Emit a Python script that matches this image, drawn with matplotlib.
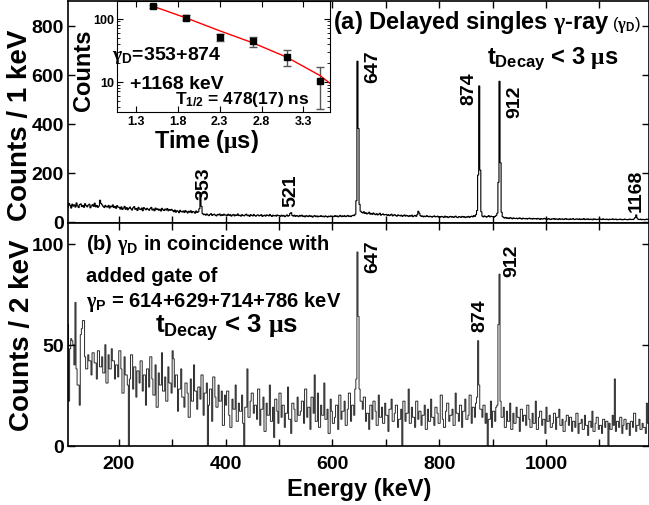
import numpy as np
import matplotlib
matplotlib.use('Agg')
import matplotlib.pyplot as plt
import matplotlib as mpl
from matplotlib.ticker import MultipleLocator, FixedLocator, LogLocator, NullFormatter

mpl.rcParams['font.family'] = ['Liberation Sans', 'DejaVu Sans']
mpl.rcParams['font.weight'] = 'bold'
mpl.rcParams['mathtext.fontset'] = 'custom'
mpl.rcParams['mathtext.rm'] = 'Liberation Sans:bold'
mpl.rcParams['mathtext.it'] = 'Liberation Sans:bold'
mpl.rcParams['mathtext.bf'] = 'Liberation Sans:bold'
mpl.rcParams['mathtext.cal'] = 'Liberation Serif'

# ---- (a) delayed singles, counts per keV, 2 keV steps from 100 keV ----
top_100 = [62, 70, 58, 74, 66, 55, 71, 63, 68, 59, 76, 64, 57, 69, 72, 61, 66, 58, 73, 65,
           60, 67, 71, 56, 64, 69, 62, 75, 60, 66, 58, 63, 87, 74, 68, 62, 57, 66, 61, 59,
           66, 55, 63, 60, 68, 57, 62, 54, 65, 59]
top_200 = [58, 51, 60, 49, 55, 62, 50, 57, 48, 54, 59, 52, 47, 56, 61, 50, 53, 45, 58, 51,
           49, 55, 44, 57, 52, 48, 54, 50, 46, 53, 58, 47, 51, 44, 55, 49, 52, 46, 50, 43,
           54, 48, 45, 51, 47, 53, 44, 49, 46, 50]
top_300 = [45, 40, 47, 38, 44, 42, 36, 46, 41, 39, 43, 37, 45, 40, 35, 42, 38, 44, 36, 41,
           39, 34, 43, 37, 40, 52, 118, 62, 33, 28, 30, 26, 31, 27, 24, 29, 32, 25, 28, 30,
           26, 23, 29, 27, 31, 24, 28, 25, 30, 26]
top_400 = [27, 24, 30, 25, 28, 22, 26, 29, 23, 27, 25, 31, 24, 26, 22, 28, 25, 23, 27, 30,
           24, 26, 21, 28, 25, 23, 29, 24, 22, 26, 27, 23, 25, 28, 21, 24, 26, 22, 27, 25,
           23, 29, 24, 21, 26, 23, 25, 22, 27, 24]
top_500 = [24, 21, 26, 22, 25, 20, 23, 27, 22, 24, 33, 36, 25, 22, 26, 21, 24, 23, 20, 25,
           22, 26, 21, 23, 19, 24, 22, 20, 25, 21, 23, 18, 22, 24, 20, 23, 19, 22, 21, 24,
           20, 22, 19, 23, 21, 18, 22, 20, 23, 21]
top_600 = [22, 20, 24, 21, 23, 19, 22, 25, 20, 23, 21, 24, 20, 22, 25, 21, 23, 20, 24, 26,
           24, 30, 85, 655, 380, 70, 42, 38, 35, 40, 33, 36, 31, 34, 38, 30, 33, 29, 35, 31,
           28, 32, 27, 30, 34, 26, 29, 31, 27, 28]
top_700 = [29, 25, 28, 24, 27, 30, 23, 26, 28, 24, 22, 27, 25, 23, 26, 21, 24, 27, 22, 25,
           23, 21, 24, 22, 26, 20, 23, 25, 21, 28, 42, 34, 24, 21, 23, 19, 22, 20, 24, 21,
           19, 22, 20, 18, 21, 23, 19, 20, 22, 18]
top_800 = [20, 18, 21, 19, 17, 22, 18, 20, 16, 19, 21, 18, 20, 17, 19, 22, 18, 16, 20, 19,
           17, 21, 18, 20, 16, 19, 18, 21, 17, 20, 22, 19, 24, 21, 28, 45, 190, 554, 210, 40,
           22, 19, 23, 20, 18, 21, 24, 19, 22, 20]
top_900 = [20, 18, 21, 25, 34, 160, 573, 240, 38, 20, 16, 14, 17, 13, 15, 12, 16, 14, 11, 15,
           13, 12, 14, 11, 13, 15, 12, 10, 14, 12, 11, 13, 10, 12, 14, 11, 12, 10, 13, 11,
           12, 10, 13, 11, 9, 12, 10, 11, 13, 10]
top_1000 = [11, 9, 12, 10, 8, 11, 10, 12, 9, 11, 10, 8, 12, 9, 10, 11, 8, 10, 12, 9,
            10, 8, 11, 9, 10, 12, 8, 9, 11, 10, 9, 11, 8, 10, 9, 12, 8, 10, 9, 11,
            8, 10, 9, 7, 11, 9, 10, 8, 9, 10]
top_1100 = [9, 10, 8, 11, 9, 8, 10, 9, 7, 10, 8, 9, 11, 8, 9, 10, 7, 9, 8, 10,
            9, 7, 8, 10, 9, 8, 7, 9, 10, 8, 9, 8, 11, 16, 27, 14, 9, 8, 10, 7,
            9, 8, 7, 9, 10, 8, 9, 7, 8, 9]

# ---- (b) gamma_D gated by gamma_P, counts per 2 keV from 100 keV ----
bot_100 = [50, 52, 60, 22, 48, 53, 52, 50, 40, 71, 38, 30, 30, 20, 55, 58, 62, 62, 44, 38,
           38, 45, 42, 42, 35, 46, 46, 41, 41, 33, 47, 47, 39, 39, 44, 36, 36, 50, 31, 31,
           45, 38, 38, 48, 42, 42, 33, 40, 40, 34]
bot_200 = [47, 47, 38, 26, 26, 44, 35, 35, 30, 0, 33, 45, 45, 28, 39, 39, 24, 37, 37, 31,
           42, 42, 27, 35, 35, 20, 38, 38, 29, 44, 44, 33, 25, 25, 40, 19, 19, 36, 30, 30,
           46, 27, 27, 34, 22, 22, 39, 31, 31, 26]
bot_300 = [47, 43, 29, 35, 35, 17, 28, 28, 38, 24, 24, 19, 31, 31, 26, 14, 14, 33, 22, 22,
           40, 27, 27, 18, 29, 29, 23, 35, 35, 15, 26, 26, 31, 0, 20, 28, 28, 12, 34, 34,
           24, 19, 19, 30, 22, 22, 27, 10, 10, 25]
bot_400 = [20, 27, 27, 15, 9, 9, 23, 18, 18, 30, 12, 12, 21, 17, 17, 25, 11, 0, 19, 19,
           38, 14, 14, 22, 26, 26, 16, 20, 20, 13, 28, 28, 10, 18, 18, 24, 7, 7, 21, 15,
           15, 30, 12, 12, 19, 4, 23, 23, 17, 11]
bot_500 = [26, 26, 14, 20, 20, 9, 16, 16, 29, 13, 13, 6, 21, 21, 18, 12, 12, 24, 15, 15,
           17, 22, 22, 11, 28, 28, 14, 19, 19, 8, 24, 24, 16, 35, 12, 12, 26, 9, 9, 20,
           15, 15, 31, 13, 13, 18, 6, 6, 23, 17]
bot_600 = [11, 11, 14, 20, 20, 8, 25, 25, 13, 17, 17, 22, 10, 10, 18, 26, 26, 12, 20, 20,
           15, 28, 33, 96, 64, 28, 22, 22, 18, 24, 24, 12, 16, 16, 8, 20, 20, 13, 22, 22,
           17, 10, 10, 25, 14, 14, 19, 11, 11, 21]
bot_700 = [15, 15, 7, 18, 18, 23, 12, 12, 16, 20, 20, 9, 13, 13, 18, 0, 22, 22, 12, 16,
           16, 28, 11, 11, 19, 14, 14, 9, 22, 22, 13, 17, 17, 10, 15, 15, 20, 8, 8, 18,
           12, 12, 23, 14, 14, 10, 19, 19, 16, 11]
bot_800 = [11, 25, 25, 13, 9, 9, 17, 21, 21, 12, 15, 15, 18, 10, 10, 26, 16, 16, 12, 20,
           20, 9, 17, 17, 23, 13, 13, 15, 25, 25, 11, 19, 19, 14, 21, 24, 52, 30, 18, 18,
           14, 20, 20, 11, 16, 0, 13, 13, 22, 9]
bot_900 = [17, 17, 12, 19, 20, 60, 85, 22, 14, 14, 19, 9, 9, 17, 12, 12, 21, 8, 8, 16,
           11, 11, 19, 14, 14, 7, 18, 18, 12, 15, 15, 10, 20, 20, 13, 9, 9, 16, 11, 11,
           22, 8, 8, 14, 17, 17, 10, 13, 13, 6]
bot_1000 = [19, 12, 12, 15, 9, 9, 11, 16, 16, 8, 14, 14, 18, 10, 10, 13, 7, 7, 12, 15,
            15, 10, 14, 14, 7, 12, 12, 9, 16, 16, 6, 11, 11, 13, 8, 8, 15, 10, 10, 5,
            12, 12, 9, 17, 7, 7, 11, 14, 14, 8]
bot_1100 = [10, 10, 6, 13, 13, 9, 12, 12, 0, 11, 8, 8, 15, 10, 33, 7, 12, 12, 9, 14,
            14, 6, 10, 13, 13, 8, 11, 11, 5, 12, 12, 9, 16, 16, 7, 10, 10, 13, 8, 8,
            11, 9, 9, 6, 21, 11, 11, 7, 13, 13]

# ---- inset: decay curve ----
t_us = [1.5, 1.9, 2.3, 2.7, 3.1, 3.5]
t_counts = [157, 104, 51, 43.5, 24.5, 10.4]
t_err = [10, 8, 6.5, 7.5, 7.0, 6.7]
fit_t = [1.5, 1.9, 2.3, 2.7, 3.1, 3.5, 3.62]
fit_counts = [157, 102, 64, 41, 24.5, 12.5, 9.4]

top_peaks = [('353', 359, 92), ('521', 523, 65), ('647', 676, 571),
             ('874', 855, 481), ('912', 941, 427), ('1168', 1169, 43)]
bot_peaks = [('647', 676, 86), ('874', 877, 57), ('912', 937, 84)]

top_counts = np.array(top_100 + top_200 + top_300 + top_400 + top_500 + top_600 +
                      top_700 + top_800 + top_900 + top_1000 + top_1100)
bot_counts = np.array(bot_100 + bot_200 + bot_300 + bot_400 + bot_500 + bot_600 +
                      bot_700 + bot_800 + bot_900 + bot_1000 + bot_1100)
top_edges = 100 + 2 * np.arange(len(top_counts) + 1)
bot_edges = 100 + 2 * np.arange(len(bot_counts) + 1)

W, H = 649, 506
fig = plt.figure(figsize=(W / 100, H / 100), dpi=100)

ax1 = fig.add_axes([68 / W, 1 - 224 / H, 580.5 / W, 222 / H])
ax2 = fig.add_axes([68 / W, 1 - 446.5 / H, 580.5 / W, 222.5 / H])
axin = fig.add_axes([117 / W, 1 - 113 / H, 213 / W, 111 / H])

ax1.stairs(top_counts, top_edges, baseline=None, color='black', lw=0.8)
ax2.stairs(bot_counts, bot_edges, baseline=None, color='#2a2a2a', lw=0.7)

for ax in (ax1, ax2):
    ax.set_xlim(105, 1192)
    ax.xaxis.set_major_locator(MultipleLocator(200))
    ax.xaxis.set_minor_locator(MultipleLocator(100))
    ax.tick_params(which='both', direction='in', top=True, right=True,
                   length=5, width=1, labelsize=14, pad=3)
    for s in ax.spines.values():
        s.set_linewidth(1.2)

ax1.set_ylim(-6, 901)
ax1.yaxis.set_major_locator(MultipleLocator(200))
ax1.tick_params(axis='x', labelbottom=False)
ax2.set_ylim(0, 110.4)
ax2.yaxis.set_major_locator(FixedLocator([0, 50, 100]))
ax2.tick_params(axis='x', pad=7)

for lab, e, c in top_peaks:
    ax1.text(e, c, lab, rotation=90, ha='center', va='bottom', fontsize=14, fontweight='bold')
for lab, e, c in bot_peaks:
    ax2.text(e, c, lab, rotation=90, ha='center', va='bottom', fontsize=14, fontweight='bold')

# inset
axin.errorbar(t_us, t_counts, yerr=t_err, fmt='s', color='black', ms=5,
              ecolor='#555555', elinewidth=1, capsize=3)
axin.plot(fit_t, fit_counts, color='red', lw=1)
axin.set_yscale('log')
axin.set_xlim(1.07, 3.62)
axin.set_ylim(3.3, 190)
axin.xaxis.set_major_locator(FixedLocator([1.3, 1.8, 2.3, 2.8, 3.3]))
axin.yaxis.set_major_locator(FixedLocator([10, 100]))
axin.yaxis.set_minor_locator(LogLocator(subs=np.arange(2, 10)))
axin.yaxis.set_minor_formatter(NullFormatter())
axin.yaxis.set_major_formatter(plt.FuncFormatter(lambda v, p: '%d' % v))
axin.tick_params(which='both', direction='in', top=True, right=True, labelsize=9, pad=2)
axin.tick_params(which='major', length=4)
axin.tick_params(which='minor', length=2)

# labels
fig.text(20 / W, 1 - 125 / H, 'Counts / 1 keV', rotation=90, ha='center', va='center', fontsize=20)
fig.text(21.7 / W, 1 - 335 / H, 'Counts / 2 keV', rotation=90, ha='center', va='center', fontsize=20)
fig.text(359 / W, 1 - 490 / H, 'Energy (keV)', ha='center', va='center', fontsize=17)
fig.text(83.5 / W, 1 - 70 / H, 'Counts', rotation=90, ha='center', va='center', fontsize=17)
fig.text(206 / W, 1 - 148 / H, r'Time ($\mathcal{μ}$s)', ha='center', va='baseline', fontsize=17)

fig.text(333 / W, 1 - 29 / H, r'(a) Delayed singles $\mathcal{γ}$-ray', ha='left', va='baseline', fontsize=17)
fig.text(612 / W, 1 - 29 / H, r'($\mathcal{γ}_{D}$)', ha='left', va='baseline', fontsize=12, fontweight='normal')
fig.text(487 / W, 1 - 64 / H, r'$t_{Decay}$ < 3 $\mathcal{μ}$s', ha='left', va='baseline', fontsize=17)

fig.text(112 / W, 1 - 60 / H, r'$\mathcal{γ}_{D}$=353+874', ha='left', va='baseline', fontsize=14)
fig.text(130 / W, 1 - 89 / H, '+1168 keV', ha='left', va='baseline', fontsize=14)
fig.text(175 / W, 1 - 104 / H, r'T$_{1/2}$ = 478(17) ns', ha='left', va='baseline', fontsize=12.5)

fig.text(86 / W, 1 - 250 / H, r'(b) $\mathcal{γ}_{D}$ in coincidence with', ha='left', va='baseline', fontsize=14.5)
fig.text(86 / W, 1 - 282 / H, 'added gate of', ha='left', va='baseline', fontsize=14.5)
fig.text(86 / W, 1 - 307 / H, r'$\mathcal{γ}_{P}$ = 614+629+714+786 keV', ha='left', va='baseline', fontsize=14.5)
fig.text(155 / W, 1 - 333 / H, r'$t_{Decay}$ < 3 $\mathcal{μ}$s', ha='left', va='baseline', fontsize=18.5)

fig.savefig('out.png', dpi=100)
